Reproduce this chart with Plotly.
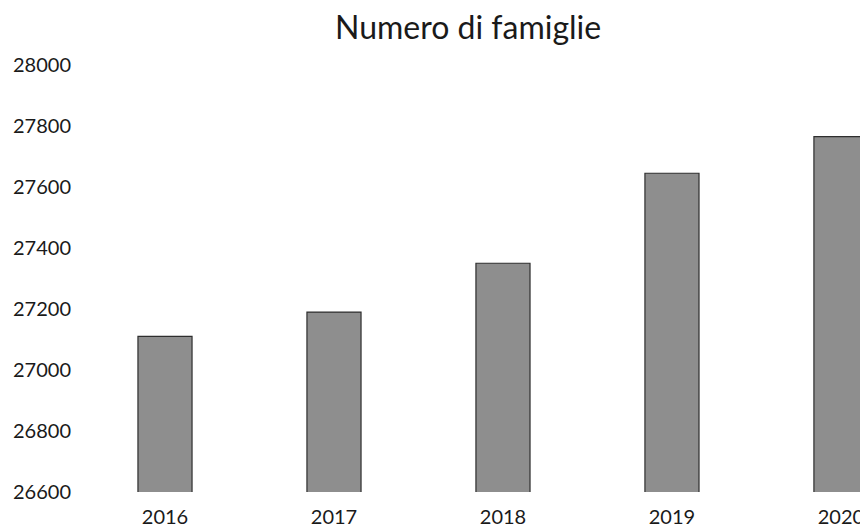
import plotly.graph_objects as go

# Data
years = ['2016', '2017', '2018', '2019', '2020']
famiglie = [27110, 27190, 27350, 27645, 27765]
y_ticks = [26600, 26800, 27000, 27200, 27400, 27600, 27800, 28000]

fig = go.Figure()

fig.add_trace(go.Bar(
    x=years,
    y=famiglie,
    width=0.32,
    marker=dict(color='#8e8e8e', line=dict(color='#2e2e2e', width=1.2)),
    hovertemplate='%{x}: %{y:.0f}<extra></extra>'
))

# page body adds an 8px offset, so the figure is a bit smaller than the window
fig.update_layout(
    width=860,
    height=520,
    margin=dict(l=72, r=0, t=57, b=36),
    paper_bgcolor='white',
    plot_bgcolor='white',
    showlegend=False,
    font=dict(family='Lato, sans-serif', color='#1a1a1a'),
    title=dict(
        text='Numero di famiglie',
        x=0.535,
        xanchor='center',
        y=0.962,
        yanchor='middle',
        yref='container',
        font=dict(size=32, color='#1a1a1a')
    ),
    xaxis=dict(
        type='category',
        range=[-0.503, 4.16],
        showgrid=False,
        showline=False,
        zeroline=False,
        ticks='outside',
        ticklen=7,
        tickcolor='rgba(0,0,0,0)',
        tickfont=dict(size=20),
        automargin=False
    ),
    yaxis=dict(
        range=[26600, 28000],
        tickvals=y_ticks,
        tickformat='d',
        showgrid=False,
        showline=False,
        zeroline=False,
        ticks='outside',
        ticklen=4,
        tickcolor='rgba(0,0,0,0)',
        tickfont=dict(size=20),
        automargin=False
    )
)

fig.write_html("out.html")
